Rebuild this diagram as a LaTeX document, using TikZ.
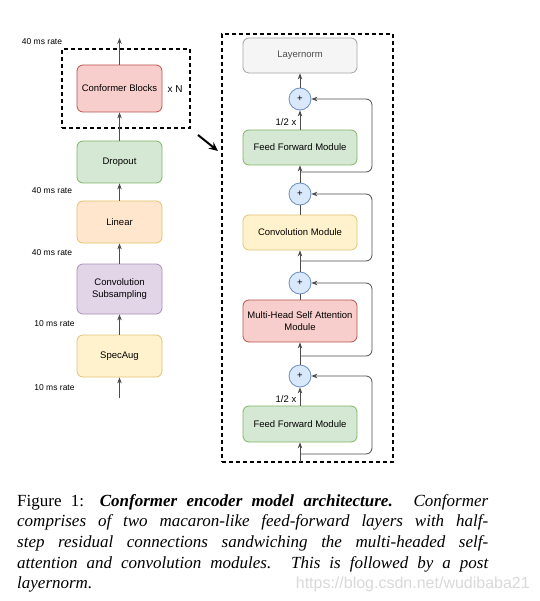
\documentclass[tikz,border=0pt]{standalone}
\usepackage{fontspec}
\setmainfont{Liberation Serif}
\newfontfamily\diagramfont{Liberation Sans}
\usetikzlibrary{positioning,arrows.meta}

\definecolor{redfill}{HTML}{F8CECC}
\definecolor{redline}{HTML}{B85450}
\definecolor{greenfill}{HTML}{D5E8D4}
\definecolor{greenline}{HTML}{82B366}
\definecolor{orangefill}{HTML}{FFE6CC}
\definecolor{orangeline}{HTML}{D79B00}
\definecolor{purplefill}{HTML}{E1D5E7}
\definecolor{purpleline}{HTML}{9673A6}
\definecolor{yellowfill}{HTML}{FFF2CC}
\definecolor{yellowline}{HTML}{D6B656}
\definecolor{grayfill}{HTML}{F5F5F5}
\definecolor{grayline}{HTML}{666666}
\definecolor{bluefill}{HTML}{DAE8FC}
\definecolor{blueline}{HTML}{6C8EBF}
\definecolor{arrowgray}{HTML}{4D4D4D}

\begin{document}
\begin{tikzpicture}[x=1pt,y=-1pt,
    block/.style={draw, rounded corners=6pt, line width=0.8pt, minimum width=85pt, minimum height=42pt, align=center, inner sep=2pt, font=\diagramfont\fontsize{9.5}{11.5}\selectfont},
    module/.style={block, minimum width=114pt, minimum height=35pt},
    adder/.style={circle, draw=blueline, fill=bluefill, line width=0.8pt, minimum size=22pt, inner sep=0pt, font=\diagramfont\fontsize{9.5}{11}\selectfont},
    rate/.style={font=\diagramfont\fontsize{8.5}{10}\selectfont, inner sep=0pt},
    flow/.style={draw=arrowgray, line width=0.8pt, -{Stealth[length=6pt,width=4.5pt]}},
    plain/.style={draw=arrowgray, line width=0.8pt},
    skip/.style={flow, rounded corners=6pt},
    frame/.style={draw, dash pattern=on 4pt off 3pt, line width=1.3pt, inner sep=0pt},
  ]
    \useasboundingbox (0,0) rectangle (539,601);
    \fill[white] (0,0) rectangle (539,601);

    % encoder stack
    \node[block, fill=redfill, draw=redline, minimum height=47pt](blocks) at (119.5,88.5){Conformer Blocks};
    \node[block, fill=greenfill, draw=greenline](dropout) at (119.5,162){Dropout};
    \node[block, fill=orangefill, draw=orangeline!60](linear) at (119.5,222){Linear};
    \node[block, fill=purplefill, draw=purpleline!80, minimum height=50pt](subsample) at (119.5,289){Convolution\\Subsampling};
    \node[block, fill=yellowfill, draw=yellowline!80](specaug) at (119.5,356){SpecAug};
    \coordinate(input) at (119.5,398);
    \coordinate(output) at (119.5,38);

    \node[frame, minimum width=128pt, minimum height=79pt](repeat) at (126,88.5){};
    \node[font=\diagramfont\fontsize{10}{12}\selectfont](times) at (175,89){x N};

    \draw[flow] (input) -- (specaug);
    \draw[flow] (specaug) -- (subsample);
    \draw[flow] (subsample) -- (linear);
    \draw[flow] (linear) -- (dropout);
    \draw[flow] (dropout) -- (blocks);
    \draw[flow] (blocks) -- (output);

    \node[rate](rate0) at (42,42){40 ms rate};
    \node[rate](rate1) at (52,191){40 ms rate};
    \node[rate](rate2) at (52,253){40 ms rate};
    \node[rate](rate3) at (54.5,324){10 ms rate};
    \node[rate](rate4) at (54.5,388){10 ms rate};

    \coordinate(zoomfrom) at (198,135);
    \coordinate(zoomto) at (218,151);
    \draw[line width=2pt, -{Stealth[length=9pt,width=8pt]}] (zoomfrom) -- (zoomto);

    % one conformer block
    \node[frame, minimum width=171pt, minimum height=428pt](block) at (307.5,248){};
    \node[module, fill=grayfill, draw=grayline!60, text=black!70](lnorm) at (300,55.5){Layernorm};
    \node[adder](add1) at (300,99){+};
    \node[module, fill=greenfill, draw=greenline](ffup) at (300,147.5){Feed Forward Module};
    \node[adder](add2) at (300,194){+};
    \node[module, fill=yellowfill, draw=yellowline!80](conv) at (300,232.5){Convolution Module};
    \node[adder](add3) at (300,283){+};
    \node[module, fill=redfill, draw=redline, minimum height=42pt](mhsa) at (300,321){Multi-Head Self Attention\\Module};
    \node[adder](add4) at (300,376){+};
    \node[module, fill=greenfill, draw=greenline, minimum height=36pt](ffdown) at (300,424){Feed Forward Module};
    \coordinate(blockin) at (300,462);

    \draw[flow] (blockin) -- (ffdown);
    \draw[flow] (ffdown) -- (add4);
    \draw[flow] (add4) -- (mhsa);
    \draw[plain] (mhsa) -- (add3);
    \draw[flow] (add3) -- (conv);
    \draw[plain] (conv) -- (add2);
    \draw[flow] (add2) -- (ffup);
    \draw[flow] (ffup) -- (add1);
    \draw[flow] (add1) -- (lnorm);

    \node[font=\diagramfont\fontsize{9.5}{11}\selectfont](half1) at (286,122){1/2 x};
    \node[font=\diagramfont\fontsize{9.5}{11}\selectfont](half2) at (286,399){1/2 x};

    \coordinate(res1) at (300,172);
    \coordinate(res2) at (300,261);
    \coordinate(res3) at (300,356);
    \coordinate(res4) at (300,454);
    \draw[skip] (res1) -- ++(72,0) |- (add1);
    \draw[skip] (res2) -- ++(72,0) |- (add2);
    \draw[skip] (res3) -- ++(72,0) |- (add3);
    \draw[skip] (res4) -- ++(72,0) |- (add4);

    % caption
    \node[anchor=north west, inner sep=0pt, text width=471pt, align=justify, font=\fontsize{17}{20.7}\selectfont](caption) at (17,494){\tolerance=9999 Figure 1: \textbf{\textit{Conformer encoder model architecture.}} \textit{Conformer\linebreak comprises of two macaron-like feed-forward layers with half-\linebreak step residual connections sandwiching the multi-headed self-\linebreak attention and convolution modules. This is followed by a post\linebreak layernorm.}};
    \node[anchor=base east, inner sep=0pt, text=black!15, font=\diagramfont\fontsize{16}{18}\selectfont](watermark) at (530,588){https://blog.csdn.net/wudibaba21};
\end{tikzpicture}
\end{document}
